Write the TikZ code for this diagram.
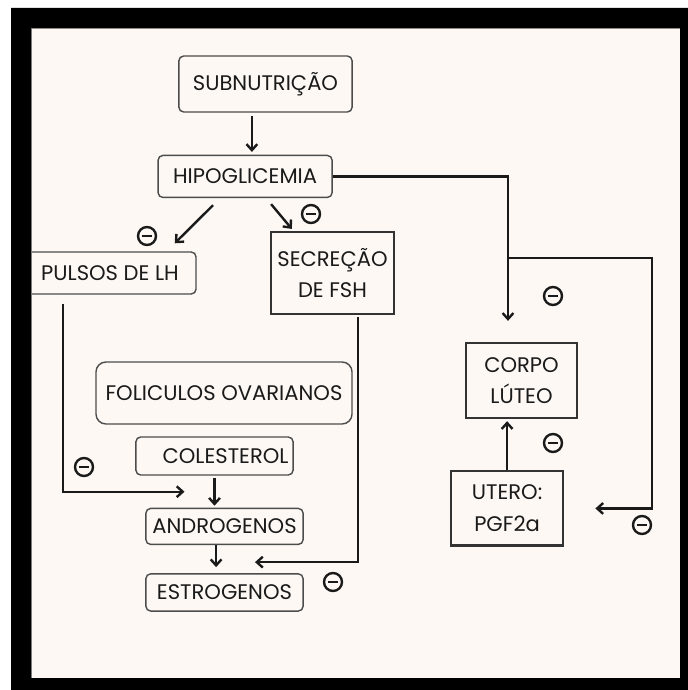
\documentclass[tikz,border=0pt]{standalone}
\usepackage{fontspec}
\setmainfont{Poppins}
\usepackage{xcolor}
\usetikzlibrary{arrows, arrows.meta, positioning}
\definecolor{cream}{HTML}{FDF8F4}
\definecolor{ink}{HTML}{1A1A1A}

\begin{document}
\begin{tikzpicture}[x=0.025cm, y=-0.025cm, font=\fontsize{15}{22.5}\selectfont, text=ink]
        \tikzset{
            rbox/.style={draw=black!70, line width=1pt, rounded corners=0.12cm, inner sep=0pt, align=center},
            sbox/.style={draw=black!80, line width=1.5pt, inner sep=0pt, align=center},
            arr/.style={-{Straight Barb[length=1.5mm, width=2.7mm]}, draw=ink, line width=1.7pt},
            inhib/.style={circle, draw=ink, line width=1.7pt, minimum size=0.45cm, inner sep=0pt,
                path picture={\draw[line width=1.7pt] ([xshift=-0.13cm]path picture bounding box.center) -- ([xshift=0.13cm]path picture bounding box.center);}}
        }
        % Page and background
        \useasboundingbox (0,0) rectangle (688,690);
        \fill[white] (0,0) rectangle (688,690);
        \fill[cream] (31,28) rectangle (680,678);

        % Top chain
        \node (subnut) [rbox, minimum width=4.33cm, minimum height=1.4cm] at (265.5,84) {SUBNUTRIÇÃO};
        \node (hipo) [rbox, minimum width=4.35cm, minimum height=1.05cm, below=1.05cm of subnut, xshift=-0.51cm] {HIPOGLICEMIA};

        % Hormones
        \node (pulsos) [rbox, minimum width=4.3cm, minimum height=1.05cm] at (110,273) {PULSOS DE LH};
        \node (fsh) [sbox, minimum width=3.08cm, minimum height=2.05cm] at (332.5,273) {SECREÇÃO\\DE FSH};

        % Ovary
        \node (folic) [rbox, rounded corners=0.25cm, minimum width=6.4cm, minimum height=1.55cm] at (224,393) {FOLICULOS OVARIANOS};
        \node (colest) [rbox, minimum width=3.93cm, minimum height=0.95cm, text width=3.7cm, align=right] at (214.5,456) {COLESTEROL};
        \node (andro) [rbox, minimum width=3.93cm, minimum height=0.9cm, below=0.8cm of colest, xshift=0.25cm] {ANDROGENOS};
        \node (estro) [rbox, minimum width=3.93cm, minimum height=0.93cm, below=0.7cm of andro] {ESTROGENOS};

        % Corpus luteum and uterus
        \node (corpo) [sbox, minimum width=2.78cm, minimum height=1.88cm] at (521.5,380.5) {CORPO\\LÚTEO};
        \node (utero) [sbox, minimum width=2.8cm, minimum height=1.85cm, below=1.28cm of corpo, xshift=-0.36cm] {UTERO:\\PGF2a};

        % Helper points
        \coordinate (s1) at ([xshift=-0.34cm]subnut.south);
        \coordinate (c1) at ([shift={(-13.5,-21)}]corpo.north);
        \coordinate (split) at ([shift={(-13.5,-84)}]corpo.north);
        \coordinate (lhin) at ([shift={(-30,16)}]colest.south);
        \coordinate (fshin) at ([shift={(30.5,-11)}]estro.north);
        \coordinate (a1) at ([xshift=-0.21cm]andro.south);

        % Arrows
        \draw[arr, shorten <=0.08cm, shorten >=0.07cm] (s1) -- (s1 |- hipo.north);
        \draw[arr] ([shift={(-32,7)}]hipo.south) -- ([shift={(-22,-8)}]pulsos.north east);
        \draw[arr] ([shift={(26,6)}]hipo.south) -- ([shift={(22,-2)}]fsh.north west);
        \draw[arr] (hipo.east) -| (c1);
        \draw[arr] (split) -- ++(144,0) |- ([xshift=0.78cm]utero.east);
        \draw[arr, shorten >=0.05cm] (utero.north) -- (corpo.south -| utero.north);
        \draw[arr, shorten <=0.22cm] ([xshift=-1.18cm]pulsos.south) |- (lhin);
        \draw[arr, shorten <=0.05cm] ([xshift=0.64cm]fsh.south) |- (fshin);
        \draw[arr, shorten <=0.05cm, shorten >=0.05cm] (colest.south) -- (colest.south |- andro.north);
        \draw[arr, shorten >=0.15cm] (a1) -- (a1 |- estro.north);

        % Inhibition marks
        \node[inhib] (inhlh) at (147,236) {};
        \node[inhib] (inhfsh) at (311,214) {};
        \node[inhib] (inhcl) at (553,296) {};
        \node[inhib] (inhpgf) at (553,443) {};
        \node[inhib] (inhut) at (642,525) {};
        \node[inhib] (inhcol) at (84,467) {};
        \node[inhib] (inhest) at (333,582) {};

        % Frame
        \draw[black!45, line width=0.4pt] (31,28) rectangle (680,678);
        \fill[black, even odd rule] (11,8) rectangle (688,690) (31,28) rectangle (680,678);
    \end{tikzpicture}
\end{document}
